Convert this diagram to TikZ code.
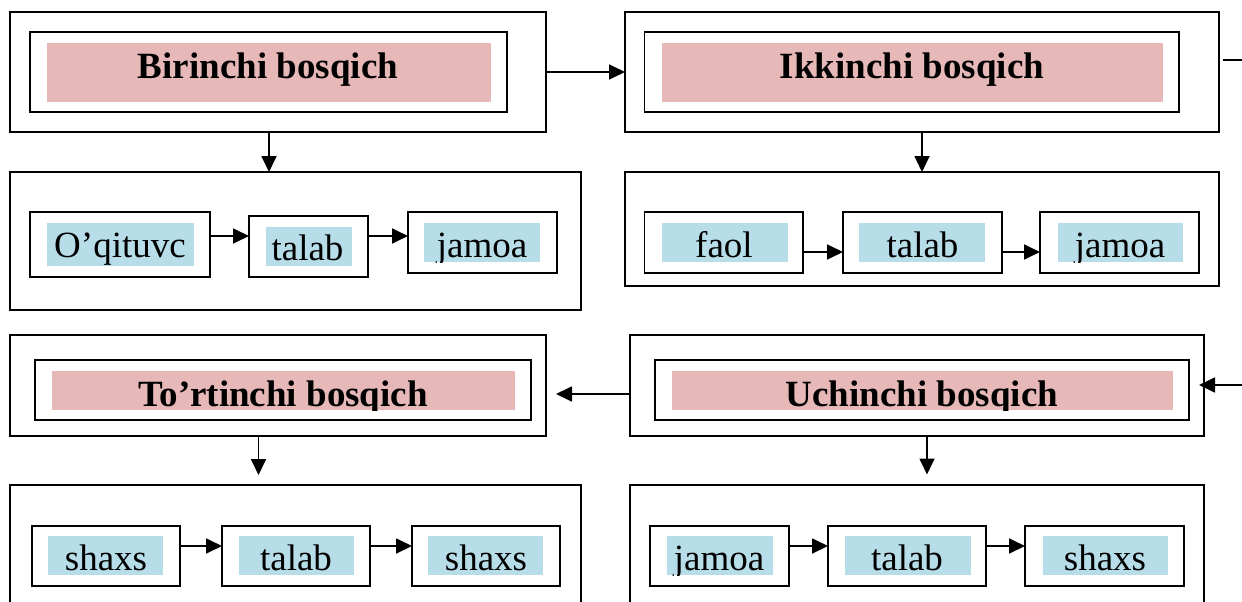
\documentclass[tikz,border=0pt]{standalone}
\usepackage{fontspec}
\setmainfont{Liberation Serif}
\usetikzlibrary{arrows.meta,fit}
\definecolor{pinkf}{RGB}{230,184,183}
\definecolor{bluef}{RGB}{183,221,232}
\tikzset{
 frame/.style={draw, line width=1.8pt, inner sep=0pt, outer sep=0pt},
 pinkbox/.style={fill=pinkf, inner sep=0pt, outer sep=0pt},
 bluebox/.style={fill=bluef, inner sep=0pt, outer sep=0pt},
 ttl/.style={font=\fontsize{37}{40}\selectfont\bfseries, inner sep=0pt, anchor=base},
 wrd/.style={font=\fontsize{37}{40}\selectfont, inner sep=0pt, anchor=base},
 arr/.style={line width=1.8pt, -{Triangle[length=16pt,width=15pt]}},
 ln/.style={line width=1.8pt},
}
% #1 fill node, #2 text node name, #3 style, #4 x, #5 baseline y, #6 text
\newcommand\cliplbl[6]{%
 \begin{scope}
 \clip (#1.south west) rectangle (#1.north east);
 \node[#3] (#2) at (#4,#5) {#6};
 \end{scope}}
\begin{document}
\begin{tikzpicture}[x=1pt,y=-1pt]
\useasboundingbox (0,0) rectangle (1242,602);
\clip (0,0) rectangle (1242,602);
\fill[white] (0,0) rectangle (1242,602);

% ---------- Birinchi ----------
\node[frame, fit={(10,12) (546,132)}] (A) {};
\node[frame, fit={(30,32) (507,112)}] (Ai) {};
\node[pinkbox, fit={(47,43) (491,102)}] (Af) {};
\cliplbl{Af}{At}{ttl}{268}{78}{Birinchi bosqich}
\node[frame, fit={(10,172) (581,310)}] (AB) {};
\node[frame, fit={(30,212) (210,277)}] (a1) {};
\node[bluebox, fit={(47,223) (194,266)}] (a1f) {};
\cliplbl{a1f}{a1t}{wrd}{120}{257}{O’qituvc}
\node[frame, fit={(249,216) (368,277)}] (a2) {};
\node[bluebox, fit={(266,227) (352,266)}] (a2f) {};
\cliplbl{a2f}{a2t}{wrd}{307.5}{260}{talab}
\node[frame, fit={(408,212) (557,273)}] (a3) {};
\node[bluebox, fit={(424,223) (540,262)}] (a3f) {};
\cliplbl{a3f}{a3t}{wrd}{482}{257}{jamoa}

% ---------- Ikkinchi ----------
\node[frame, fit={(625,12) (1219,132)}] (I) {};
\node[frame, fit={(644.5,32) (1179,112)}] (Ii) {};
\node[pinkbox, fit={(662,43) (1163,102)}] (If) {};
\cliplbl{If}{It}{ttl}{912}{78}{Ikkinchi bosqich}
\node[frame, fit={(625,172) (1219,286)}] (IB) {};
\node[frame, fit={(644.5,212) (803,273)}] (i1) {};
\node[bluebox, fit={(662,223) (788,262)}] (i1f) {};
\cliplbl{i1f}{i1t}{wrd}{724}{257}{faol}
\node[frame, fit={(843,212) (1002,273)}] (i2) {};
\node[bluebox, fit={(859,223) (985,262)}] (i2f) {};
\cliplbl{i2f}{i2t}{wrd}{922.5}{257}{talab}
\node[frame, fit={(1040,212) (1199,273)}] (i3) {};
\node[bluebox, fit={(1058,223) (1183,262)}] (i3f) {};
\cliplbl{i3f}{i3t}{wrd}{1120}{257}{jamoa}

% ---------- To'rtinchi ----------
\node[frame, fit={(10,335) (546,436)}] (T) {};
\node[frame, fit={(35,360) (531,420)}] (Ti) {};
\node[pinkbox, fit={(52,371) (515,410)}] (Tf) {};
\cliplbl{Tf}{Tt}{ttl}{283}{406}{To’rtinchi bosqich}
\node[frame, fit={(10,485) (581,640)}] (TB) {};
\node[frame, fit={(32,526) (180,586)}] (t1) {};
\node[bluebox, fit={(48,536) (163,575)}] (t1f) {};
\cliplbl{t1f}{t1t}{wrd}{106}{570}{shaxs}
\node[frame, fit={(222,526) (370,586)}] (t2) {};
\node[bluebox, fit={(239,536) (354,575)}] (t2f) {};
\cliplbl{t2f}{t2t}{wrd}{296}{570}{talab}
\node[frame, fit={(412,526) (560,586)}] (t3) {};
\node[bluebox, fit={(428,536) (543,575)}] (t3f) {};
\cliplbl{t3f}{t3t}{wrd}{486}{570}{shaxs}

% ---------- Uchinchi ----------
\node[frame, fit={(630,335) (1204,436)}] (U) {};
\node[frame, fit={(655,360) (1189,420)}] (Ui) {};
\node[pinkbox, fit={(672,371) (1173,410)}] (Uf) {};
\cliplbl{Uf}{Ut}{ttl}{922}{406}{Uchinchi bosqich}
\node[frame, fit={(630,485) (1204,640)}] (UB) {};
\node[frame, fit={(650,526) (789,586)}] (u1) {};
\node[bluebox, fit={(667,536) (773,575)}] (u1f) {};
\cliplbl{u1f}{u1t}{wrd}{719}{570}{jamoa}
\node[frame, fit={(828,526) (986,586)}] (u2) {};
\node[bluebox, fit={(845,536) (971,575)}] (u2f) {};
\cliplbl{u2f}{u2t}{wrd}{907}{570}{talab}
\node[frame, fit={(1025,526) (1184,586)}] (u3) {};
\node[bluebox, fit={(1043,536) (1168,575)}] (u3f) {};
\cliplbl{u3f}{u3t}{wrd}{1105}{570}{shaxs}

% ---------- connectors ----------
\coordinate (rs) at (1250,60);
\coordinate (ri) at (1250,385);
\draw[arr] (A.east) -- (I.west);
\draw[ln, shorten <=4pt] (I.east |- rs) -- (rs);
\draw[arr] (ri) -- ([xshift=-5pt]U.east |- ri);
\draw[arr] (U.west |- 0,394) -- ([xshift=10pt]T.east |- 0,394);

\draw[arr] ([xshift=-9pt]A.south) -- ([xshift=-9pt]A.south |- AB.north);
\draw[arr] (I.south) -- (I.south |- IB.north);
\draw[arr, shorten >=10pt] ([xshift=-19.5pt]T.south) -- ([xshift=-19.5pt]T.south |- TB.north);
\draw[arr, shorten >=10.5pt] ([xshift=10pt]U.south) -- ([xshift=10pt]U.south |- UB.north);

\draw[arr] (a1.east |- 0,236) -- (a2.west |- 0,236);
\draw[arr] (a2.east |- 0,236) -- (a3.west |- 0,236);
\draw[arr] (i1.east |- 0,252) -- (i2.west |- 0,252);
\draw[arr] (i2.east |- 0,252) -- (i3.west |- 0,252);
\draw[arr] (t1.east |- 0,546) -- (t2.west |- 0,546);
\draw[arr] (t2.east |- 0,546) -- (t3.west |- 0,546);
\draw[arr] (u1.east |- 0,546) -- (u2.west |- 0,546);
\draw[arr] (u2.east |- 0,546) -- (u3.west |- 0,546);
\end{tikzpicture}
\end{document}
